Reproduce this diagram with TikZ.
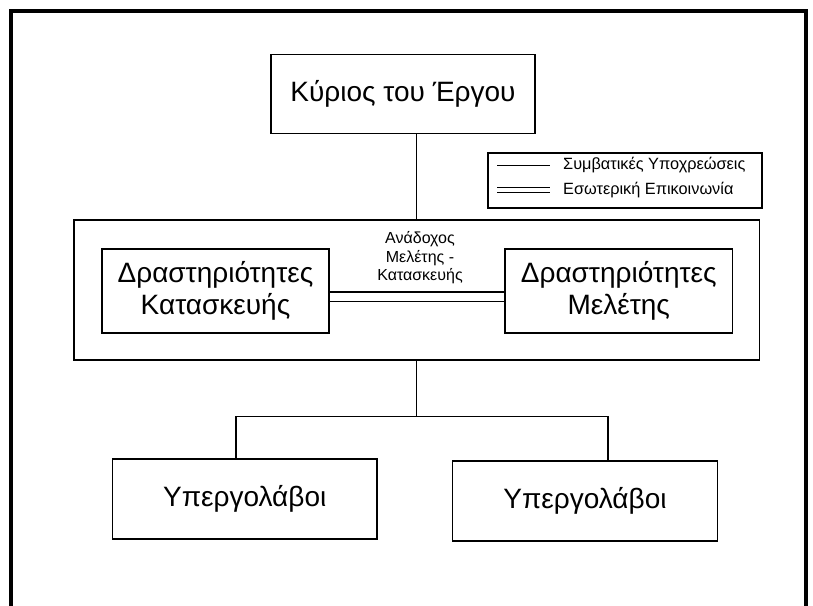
\documentclass[tikz,border=0pt]{standalone}
\usepackage{fontspec}
\setmainfont{Liberation Sans}
\begin{document}
\begin{tikzpicture}[x=1pt,y=-1pt,
  box/.style={draw=black,line width=1.1pt,inner sep=0pt,align=center},
  big/.style={font=\fontsize{28}{32}\selectfont},
  conn/.style={draw=black,line width=1.1pt},
  legtext/.style={font=\fontsize{16.3}{18}\selectfont,anchor=west,inner sep=0pt}]
\useasboundingbox (0,0) rectangle (813,605);
% frame
\draw[line width=3.6pt] (11,607) -- (11,11) -- (806,11) -- (806,607);
% nodes
\node[box,big,minimum width=264pt,minimum height=79.5pt] (kyrios) at (403,94) {Κύριος του Έργου};
\node[box,minimum width=685.5pt,minimum height=140pt] (anad) at (416.75,290) {};
\node[font=\fontsize{16}{18.5}\selectfont,align=center,inner sep=0pt] (anadlabel) at (420,258) {Ανάδοχος\\Μελέτης -\\Κατασκευής};
\node[box,big,minimum width=227pt,minimum height=84pt] (kat) at (215.5,291) {Δραστηριότητες\\Κατασκευής};
\node[box,big,minimum width=227.5pt,minimum height=84pt] (mel) at (618.75,291) {Δραστηριότητες\\Μελέτης};
\node[box,big,minimum width=264.5pt,minimum height=80pt] (sub1) at (244.75,499) {Υπεργολάβοι};
\node[box,big,minimum width=265pt,minimum height=80pt] (sub2) at (585,501) {Υπεργολάβοι};
% legend
\node[box,minimum width=274pt,minimum height=55pt] (legend) at (625,180.5) {};
\coordinate (l1a) at (497,165);
\coordinate (l1b) at (550,165);
\coordinate (l2a) at (497,187.7);
\coordinate (l2b) at (550,187.7);
\coordinate (l3a) at (497,192.3);
\coordinate (l3b) at (550,192.3);
\draw[line width=0.8pt] (l1a) -- (l1b);
\draw[line width=0.8pt] (l2a) -- (l2b);
\draw[line width=0.8pt] (l3a) -- (l3b);
\node[legtext] (leg1) at (563,165) {Συμβατικές Υποχρεώσεις};
\node[legtext] (leg2) at (563,190) {Εσωτερική Επικοινωνία};
% connectors
\draw[conn] (anad.north) -- (anad.north |- kyrios.south);
\draw[conn] ([yshift=-1pt]kat.east) -- ([yshift=-1pt]kat.east -| mel.west);
\draw[conn] ([yshift=-10.7pt]kat.east) -- ([yshift=-10.7pt]kat.east -| mel.west);
\coordinate (j) at (416.75,416.7);
\coordinate (jl) at (236,416.7);
\coordinate (jr) at (608,416.7);
\draw[conn] (anad.south) -- (j);
\draw[conn] (jl |- sub1.north) -- (jl) -- (jr) -- (jr |- sub2.north);
\end{tikzpicture}
\end{document}
